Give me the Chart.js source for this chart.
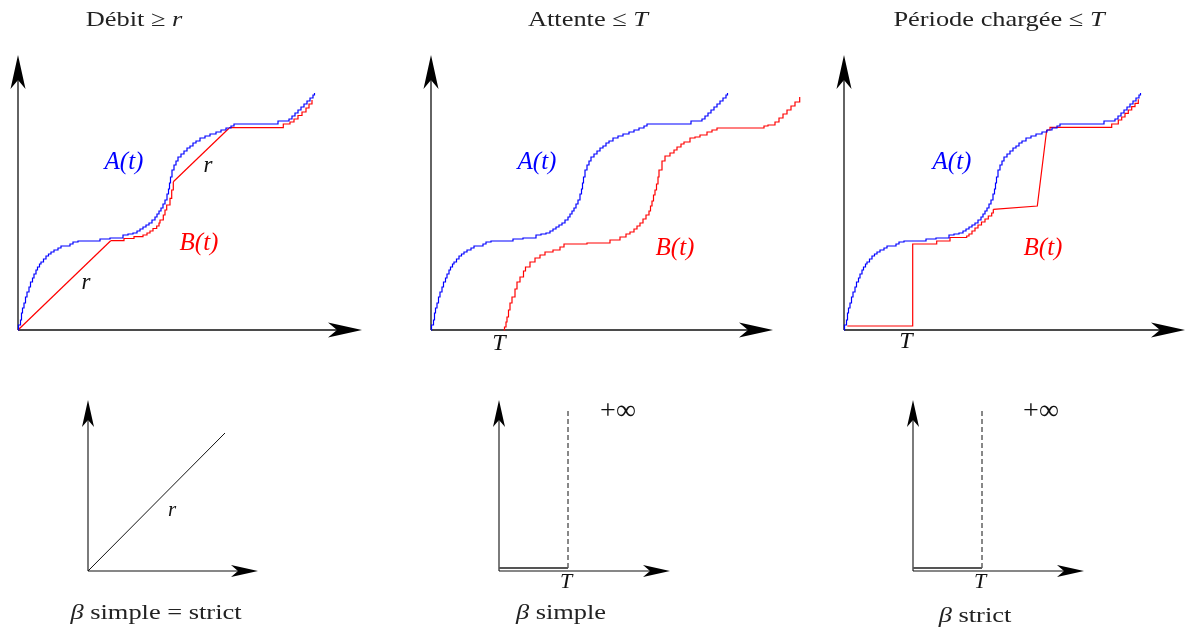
<!DOCTYPE html>
<html>
<head>
<meta charset="utf-8">
<script src="https://cdn.jsdelivr.net/npm/chart.js@4.4.1/dist/chart.umd.min.js"></script>
<style>
html, body { margin: 0; padding: 0; background: #fff; }
#page { position: relative; width: 1186px; height: 629px; overflow: hidden; }
#page canvas { position: absolute; left: 0; top: 0; }
.txt {
    position: absolute;
    font-family: "Liberation Serif", serif;
    font-size: 22px;
    color: #222;
    white-space: nowrap;
    transform: translate(-50%, -50%) scaleX(1.2);
}
</style>
</head>
<body>
<div id="page">
    <div class="txt" style="left:134px;top:19px">Débit ≥ <i>r</i></div>
    <div class="txt" style="left:588px;top:19px">Attente ≤ <i>T</i></div>
    <div class="txt" style="left:999px;top:19px">Période chargée ≤ <i>T</i></div>
    <div class="txt" style="left:156px;top:612px"><i>β</i> simple = strict</div>
    <div class="txt" style="left:561px;top:612px"><i>β</i> simple</div>
    <div class="txt" style="left:975px;top:615px"><i>β</i> strict</div>
</div>
<script>
// arrivées cumulées A(t), identiques dans les trois graphes du haut (t, quantité)
const courbeA = [[0,0],[0.5,5],[2.5,10],[3.5,17],[4.5,22],[6,27],[7.5,33],[9,38],[11,43],[12.5,48],
    [14.5,52],[16,56],[18,60],[19.5,63],[21.5,66],[23,68],[25.5,71],[28,74],[30.5,76],[33,78],
    [36,80],[40,82],[43,84],[52,86],[55,88],[60,89],[82,91],[92,92],[105,95],[110,96],[115,97],
    [119,99],[122,101],[125,103],[128,105],[131,107],[134,110],[137,113],[139,116],[141,119],
    [143,122],[145,126],[147,130],[149,136],[150.5,141],[151.5,147],[152.5,153],[154,160],
    [156,165],[158,169],[160,173],[163,176],[166,179],[169,182],[172,184],[175,187],[178,189],
    [182,192],[187,194],[192,196],[198,198],[203,200],[208,202],[213,204],[216,206],[260,209],
    [271,211],[274,214],[277,217],[280,220],[283,223],[286,226],[289,229],[292,232],[295,235],[296.5,237]];

// sorties B(t) - débit >= r
const b1Rampe1 = [[0,0],[92.7,89.3]];
const b1Marches1 = [[92.7,89.3],[106,91.5],[116,93.3],[125,95],[129,97],[132,99],[135,101.5],
    [138.7,104],[141,107],[142,110],[145.3,115],[147,120],[148.7,125],[152,131.7],[153.7,140],[155.3,148.3]];
const b1Rampe2 = [[155.3,148.3],[211,201.7]];
const b1Marches2 = [[211,202.3],[265.3,206],[272,208],[276,211],[280,214.5],[284,218],[288,222],[291,226],[294,230]];

// sorties B(t) - attente <= T
const b2Marches = [[72.7,0],[73.5,3],[75,8],[76,13],[77.5,20],[79,27],[81,33],[84,41],[86,48],[89,53],
    [92.5,59],[94.5,63],[99,68],[104,72],[109,75],[114,78],[122,80],[129,83],[133,86],[156,87],
    [179,90],[189,93],[195,96],[199,98],[203,101],[206,104],[209,107],[212,111],[215,115],[218,119],
    [219.5,124],[221,129],[222.5,135],[224,140],[225.5,146],[227,153],[228,160],[231,169],[234,174],
    [239,177],[243,180],[246,183],[250,186],[253,188],[259,192],[264,193],[269,195],[276,198],
    [281,200],[286,202],[333,204],[337,205],[344,208],[348,212],[352,216],[356,220],[360,224],
    [364,228],[368.7,233]];

// sorties B(t) - période chargée <= T
const b3Marches1 = [[3.3,4],[68.7,86],[92.7,89],[106,92.5],[122.7,94],[125,96],[128,99],[131,102],
    [134,105],[137.5,108],[141,111],[144.3,114],[147.7,117],[149.3,120.7]];
const b3Rampe = [[149.3,120.7],[193.3,124],[202.7,200]];
const b3Marches2 = [[202.7,200],[206,202.7],[267.7,206],[274.3,210],[277.7,213],[281,216.7],
    [284.3,220],[287.7,223.3],[291,226.7],[294.3,230.7]];

// courbes de service beta
const betaDebit = [[0,0],[137,138]];
const betaZero = [[0,3],[69,3]];
const betaInfini = [[69,3],[69,163]];

const BLEU = '#0000ff';
const ROUGE = '#ff0000';

function serie(points, couleur, opts = {}) {
    return Object.assign({
        data: points.map(p => ({ x: p[0], y: p[1] })),
        borderColor: couleur,
        borderWidth: 1.2,
        pointRadius: 0,
        tension: 0,
        stepped: false,
        clip: false
    }, opts);
}

// palier horizontal puis saut vertical au point suivant
const marche = { stepped: 'before' };

// lx, ly : étendue des échelles ; axe : longueur des axes fléchés
const panneaux = [
    {
        origine: [18, 330], lx: 380, ly: 275, axe: [344, 275], fleche: [34, 7.5, 9],
        series: [
            serie(courbeA, BLEU, marche),
            serie(b1Rampe1, ROUGE),
            serie(b1Marches1, ROUGE, marche),
            serie(b1Rampe2, ROUGE),
            serie(b1Marches2, ROUGE, marche)
        ],
        textes: [
            { t: 'A(t)', x: 106, y: 168, c: BLEU, f: 'italic 25px' },
            { t: 'r', x: 190, y: 164, c: '#111', f: 'italic 23px' },
            { t: 'B(t)', x: 181, y: 87, c: ROUGE, f: 'italic 25px' },
            { t: 'r', x: 68, y: 47, c: '#111', f: 'italic 23px' }
        ]
    },
    {
        origine: [431, 330], lx: 380, ly: 275, axe: [342, 275], fleche: [34, 7.5, 9],
        series: [
            serie(courbeA, BLEU, marche),
            serie(b2Marches, ROUGE, marche)
        ],
        textes: [
            { t: 'A(t)', x: 106, y: 168, c: BLEU, f: 'italic 25px' },
            { t: 'B(t)', x: 244, y: 82, c: ROUGE, f: 'italic 25px' },
            { t: 'T', x: 68, y: -14, c: '#111', f: 'italic 24px' }
        ]
    },
    {
        origine: [844, 330], lx: 341, ly: 275, axe: [341, 275], fleche: [34, 7.5, 9],
        series: [
            serie(courbeA, BLEU, marche),
            serie(b3Marches1, ROUGE, marche),
            serie(b3Rampe, ROUGE),
            serie(b3Marches2, ROUGE, marche)
        ],
        textes: [
            { t: 'A(t)', x: 108, y: 168, c: BLEU, f: 'italic 25px' },
            { t: 'B(t)', x: 199, y: 82, c: ROUGE, f: 'italic 25px' },
            { t: 'T', x: 62, y: -12, c: '#111', f: 'italic 24px' }
        ]
    },
    {
        origine: [88, 571], lx: 170, ly: 171, axe: [170, 171], fleche: [27, 6, 7],
        series: [
            serie(betaDebit, '#111', { borderWidth: 1 })
        ],
        textes: [
            { t: 'r', x: 84, y: 61, c: '#111', f: 'italic 21px' }
        ]
    },
    {
        origine: [499, 571], lx: 171, ly: 171, axe: [171, 171], fleche: [27, 6, 7],
        series: [
            serie(betaZero, '#555', { borderWidth: 2 }),
            serie(betaInfini, '#111', { borderWidth: 1, borderDash: [5, 3] })
        ],
        textes: [
            { t: '+∞', x: 119, y: 159, c: '#111', f: '28px' },
            { t: 'T', x: 67, y: -11, c: '#111', f: 'italic 22px' }
        ]
    },
    {
        origine: [913, 571], lx: 171, ly: 171, axe: [171, 171], fleche: [27, 6, 7],
        series: [
            serie(betaZero, '#555', { borderWidth: 2 }),
            serie(betaInfini, '#111', { borderWidth: 1, borderDash: [5, 3] })
        ],
        textes: [
            { t: '+∞', x: 128, y: 159, c: '#111', f: '28px' },
            { t: 'T', x: 67, y: -11, c: '#111', f: 'italic 22px' }
        ]
    }
];

function pointeFleche(ctx, tx, ty, ux, uy, dim) {
    const [L, W, n] = dim;
    const px = -uy, py = ux;
    ctx.beginPath();
    ctx.moveTo(tx, ty);
    ctx.lineTo(tx - L * ux + W * px, ty - L * uy + W * py);
    ctx.lineTo(tx - (L - n) * ux, ty - (L - n) * uy);
    ctx.lineTo(tx - L * ux - W * px, ty - L * uy - W * py);
    ctx.closePath();
    ctx.fill();
}

const axesFleches = {
    id: 'axesFleches',
    beforeDatasetsDraw(chart, args, opts) {
        const ctx = chart.ctx;
        const xs = chart.scales.x, ys = chart.scales.y;
        const x0 = xs.getPixelForValue(0), y0 = ys.getPixelForValue(0);
        const xf = xs.getPixelForValue(opts.axe[0]), yf = ys.getPixelForValue(opts.axe[1]);
        const L = opts.fleche[0] - opts.fleche[2];
        ctx.save();
        ctx.strokeStyle = '#111';
        ctx.fillStyle = '#000';
        ctx.lineWidth = opts.fleche[0] > 30 ? 1.3 : 1.1;
        ctx.beginPath();
        ctx.moveTo(x0, y0);
        ctx.lineTo(xf - L, y0);
        ctx.moveTo(x0, y0);
        ctx.lineTo(x0, yf + L);
        ctx.stroke();
        pointeFleche(ctx, xf, y0, 1, 0, opts.fleche);
        pointeFleche(ctx, x0, yf, 0, -1, opts.fleche);
        ctx.restore();
    },
    afterDatasetsDraw(chart, args, opts) {
        const ctx = chart.ctx;
        const xs = chart.scales.x, ys = chart.scales.y;
        ctx.save();
        ctx.textAlign = 'center';
        ctx.textBaseline = 'middle';
        opts.textes.forEach(e => {
            ctx.font = e.f + ' "Liberation Serif", serif';
            ctx.fillStyle = e.c;
            ctx.fillText(e.t, xs.getPixelForValue(e.x), ys.getPixelForValue(e.y));
        });
        ctx.restore();
    }
};

const page = document.getElementById('page');

panneaux.forEach(p => {
    const canvas = document.createElement('canvas');
    canvas.width = 1186;
    canvas.height = 629;
    page.insertBefore(canvas, page.firstChild);
    const [ox, oy] = p.origine;
    new Chart(canvas.getContext('2d'), {
        type: 'line',
        data: { datasets: p.series },
        plugins: [axesFleches],
        options: {
            responsive: false,
            animation: false,
            events: [],
            layout: {
                padding: { left: ox, top: oy - p.ly, right: 1186 - ox - p.lx, bottom: 629 - oy }
            },
            scales: {
                x: { type: 'linear', min: 0, max: p.lx, display: false },
                y: { type: 'linear', min: 0, max: p.ly, display: false }
            },
            plugins: {
                legend: { display: false },
                tooltip: { enabled: false },
                axesFleches: { axe: p.axe, fleche: p.fleche, textes: p.textes }
            }
        }
    });
});
</script>
</body>
</html>
